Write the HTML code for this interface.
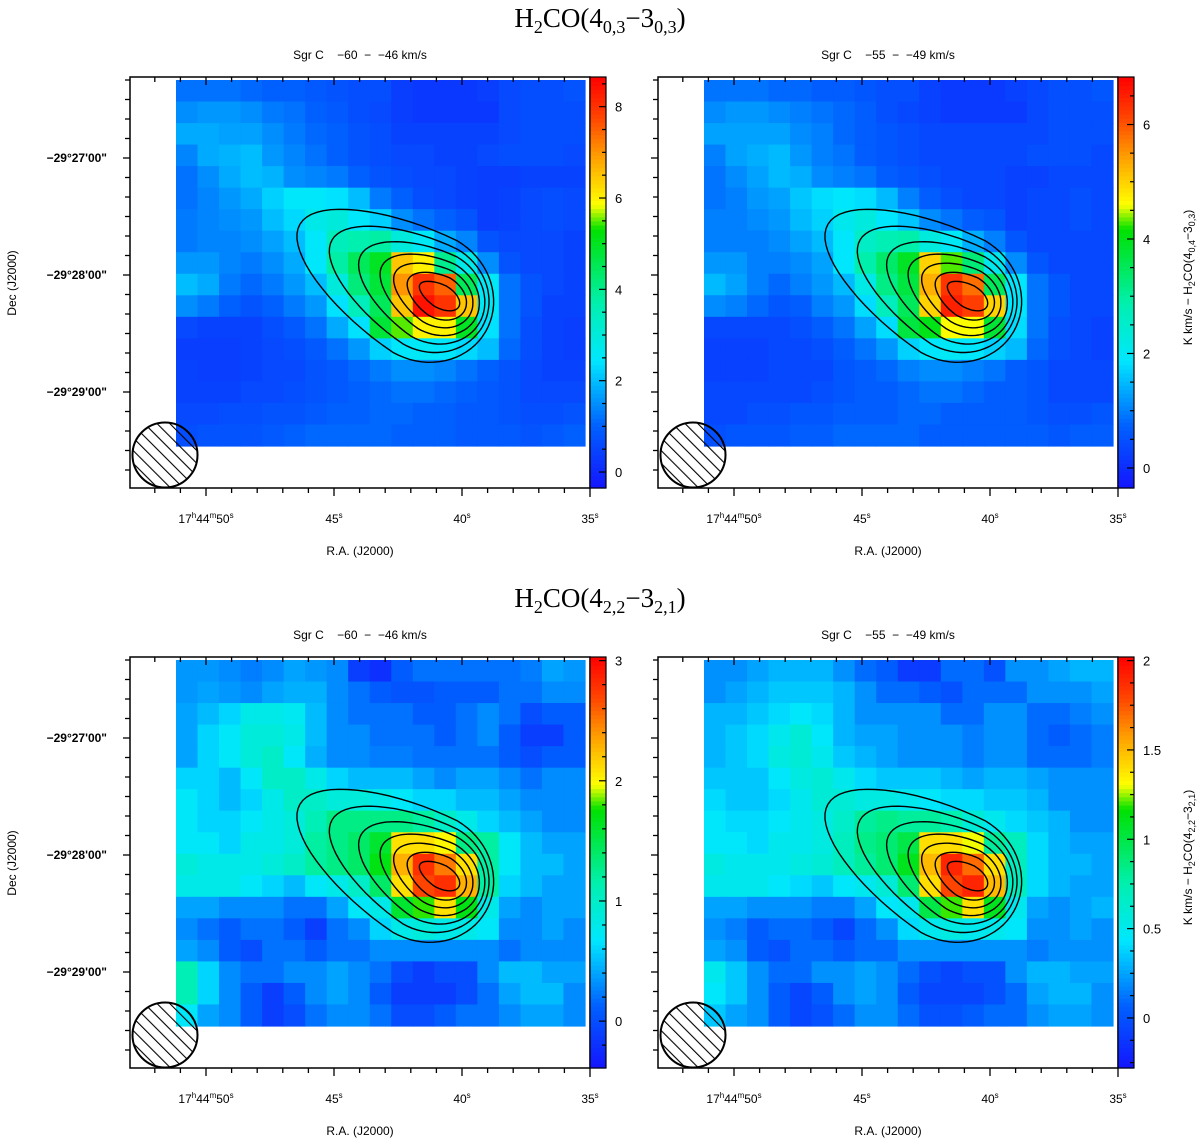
<!DOCTYPE html>
<html><head><meta charset="utf-8"><style>
html,body{margin:0;padding:0;background:#fff;}
svg text{font-family:"Liberation Sans",sans-serif;}
.ser{font-family:"Liberation Serif",serif;}
</style></head><body>
<svg id="fig" width="1200" height="1141" viewBox="0 0 1200 1141" xmlns="http://www.w3.org/2000/svg">
<defs>
<pattern id="hatch" patternUnits="userSpaceOnUse" width="9" height="9" patternTransform="rotate(-45)">
<line x1="0" y1="0" x2="0" y2="9" stroke="#000" stroke-width="2.2"/>
</pattern>
</defs>
<text class="ser" x="600" y="27" font-size="27" text-anchor="middle">H<tspan font-size="18" dy="6">2</tspan><tspan dy="-6">CO(4</tspan><tspan font-size="18" dy="6">0,3</tspan><tspan dy="-6">−3</tspan><tspan font-size="18" dy="6">0,3</tspan><tspan dy="-6">)</tspan></text>
<text class="ser" x="600" y="607" font-size="27" text-anchor="middle">H<tspan font-size="18" dy="6">2</tspan><tspan dy="-6">CO(4</tspan><tspan font-size="18" dy="6">2,2</tspan><tspan dy="-6">−3</tspan><tspan font-size="18" dy="6">2,1</tspan><tspan dy="-6">)</tspan></text>
</svg>
<script>
// ---- data ----
const rowIdx = [0,1,2,3,4,5,6,7,8,9,10,11,12,13,14,15,16];
const colIdx = [0,1,2,3,4,5,6,7,8,9,10,11,12,13,14,15,16,17,18];
const raTicks = [50,45,40,35];
const decTicks = ["−29°27'00\"","−29°28'00\"","−29°29'00\""];
const decTickOffsets = [-60,0,60];
const tlValues = [
[1.2,1.2,1.2,1.1,1.0,1.0,0.9,0.8,0.7,0.7,0.4,0.3,0.3,0.3,0.4,0.6,0.7,0.7,0.8],
[1.5,1.6,1.6,1.5,1.3,1.2,1.0,0.9,0.7,0.6,0.4,0.3,0.3,0.3,0.3,0.6,0.7,0.7,0.7],
[1.8,1.8,1.7,1.7,1.5,1.3,1.1,1.0,0.8,0.7,0.5,0.5,0.5,0.5,0.5,0.6,0.7,0.7,0.7],
[1.4,1.8,1.9,2.0,1.6,1.4,1.2,1.0,0.8,0.7,0.6,0.6,0.5,0.5,0.6,0.7,0.7,0.7,0.6],
[1.2,1.5,1.8,2.0,1.9,1.5,1.4,1.3,1.0,0.8,0.7,0.6,0.6,0.5,0.4,0.4,0.5,0.5,0.5],
[1.2,1.4,1.6,1.8,2.2,2.5,2.5,2.4,2.0,1.3,1.0,0.7,0.6,0.5,0.4,0.5,0.6,0.7,0.6],
[1.3,1.4,1.5,1.6,2.0,2.3,2.8,3.0,2.5,2.2,1.5,1.2,1.0,0.8,0.4,0.5,0.6,0.7,0.6],
[1.3,1.4,1.4,1.5,1.7,2.0,2.5,3.5,3.7,3.8,3.0,2.6,1.8,1.4,0.8,0.6,0.6,0.6,0.5],
[1.6,1.6,1.4,1.3,1.5,1.8,2.5,3.8,4.5,5.0,6.5,6.0,4.0,2.8,1.5,0.8,0.6,0.6,0.5],
[2.0,1.8,1.3,1.1,1.3,1.6,2.0,3.0,4.2,4.8,7.0,8.0,7.5,4.5,2.6,1.2,0.8,0.6,0.5],
[1.5,1.3,1.0,0.8,1.0,1.3,1.6,2.4,3.5,4.5,6.5,8.4,8.0,6.5,2.6,1.2,0.8,0.5,0.5],
[0.6,0.5,0.5,0.5,0.7,0.9,1.2,1.8,2.4,4.8,5.5,6.0,6.0,5.0,2.4,1.2,0.7,0.5,0.4],
[0.4,0.4,0.4,0.5,0.6,0.7,0.9,1.2,1.6,2.2,2.5,2.6,2.5,2.3,2.0,1.1,0.7,0.5,0.4],
[0.5,0.4,0.4,0.5,0.6,0.6,0.8,0.9,1.1,1.3,1.5,1.5,1.4,1.2,1.0,0.8,0.6,0.5,0.5],
[0.5,0.5,0.5,0.6,0.6,0.7,0.8,0.9,1.0,1.1,1.2,1.2,1.1,1.0,0.9,0.8,0.6,0.6,0.6],
[0.6,0.6,0.7,0.7,0.8,0.8,0.9,1.0,1.0,1.1,1.1,1.0,1.0,0.9,0.9,0.8,0.7,0.7,0.8],
[0.7,0.8,0.8,0.8,0.9,1.0,1.1,1.1,1.1,1.1,1.0,1.0,1.0,0.9,0.9,0.9,0.8,0.9,1.0]];
const trValues = [
[.9,.9,.9,.8,.8,.7,.7,.6,.5,.5,.3,.2,.2,.2,.3,.4,.5,.5,.6],
[1.1,1.2,1.2,1.1,1.0,.9,.8,.7,.5,.4,.3,.2,.2,.2,.2,.4,.5,.5,.5],
[1.3,1.3,1.3,1.3,1.1,1.0,.8,.7,.6,.5,.4,.4,.4,.4,.4,.4,.5,.5,.5],
[1.0,1.3,1.4,1.5,1.2,1.0,.9,.7,.6,.5,.4,.4,.4,.4,.4,.5,.5,.5,.4],
[.9,1.1,1.3,1.5,1.4,1.1,1.0,.9,.7,.6,.5,.4,.4,.4,.3,.3,.4,.4,.4],
[.9,1.0,1.2,1.3,1.6,1.8,1.9,1.8,1.5,1.0,.7,.5,.4,.4,.3,.4,.4,.5,.4],
[1.0,1.0,1.1,1.2,1.5,1.7,2.1,2.3,1.9,1.6,1.1,.9,.7,.6,.3,.4,.4,.5,.4],
[1.0,1.0,1.0,1.1,1.3,1.5,1.9,2.6,2.8,2.9,2.3,2.0,1.4,1.0,.6,.4,.4,.4,.4],
[1.2,1.2,1.0,1.0,1.1,1.3,1.9,2.9,3.4,3.9,5.0,4.3,3.3,2.1,1.1,.6,.4,.4,.4],
[1.5,1.3,1.0,.8,1.0,1.2,1.5,2.2,3.2,3.7,5.3,6.3,5.8,3.5,1.9,.9,.6,.4,.4],
[1.1,1.0,.8,.6,.7,1.0,1.2,1.8,2.7,3.5,5.0,6.5,6.2,5.0,1.9,.9,.6,.4,.4],
[.4,.4,.4,.4,.5,.7,.9,1.3,1.8,3.7,4.0,4.6,4.6,3.8,1.8,.9,.5,.4,.3],
[.3,.3,.3,.4,.4,.5,.7,.9,1.2,1.7,1.9,2.0,1.9,1.7,1.5,.8,.5,.4,.3],
[.3,.3,.3,.4,.4,.4,.6,.7,.8,1.0,1.1,1.1,1.0,.9,.7,.6,.4,.4,.4],
[.4,.4,.4,.4,.4,.5,.6,.7,.7,.8,.9,.9,.8,.7,.7,.6,.4,.4,.4],
[.4,.4,.5,.5,.6,.6,.7,.7,.7,.8,.8,.7,.7,.7,.7,.6,.5,.5,.6],
[.5,.6,.6,.6,.7,.7,.8,.8,.8,.8,.7,.7,.7,.7,.7,.7,.6,.7,.7]];
const blValues = [
[.35,.35,.3,.25,.3,.4,.35,.3,-.1,-.2,.1,.2,.2,.2,.2,.2,.25,.4,.35],
[.35,.4,.35,.3,.4,.45,.45,.3,.2,.1,.05,.05,.1,.1,.1,.2,.2,.3,.3],
[.4,.5,.6,.8,.8,.75,.5,.3,.2,.2,.2,.1,.1,.2,.3,.2,.0,.1,.1],
[.4,.6,.7,.9,.9,.8,.5,.3,.3,.2,.2,.2,.1,.2,.3,.1,-.1,-.1,.1],
[.4,.6,.7,.9,1.0,.7,.45,.3,.3,.25,.25,.2,.2,.2,.2,.1,0,.1,.1],
[.6,.6,.5,.7,1.0,1.0,.8,.6,.5,.5,.5,.4,.3,.4,.4,.3,.2,.3,.3],
[.7,.6,.5,.6,.8,1.0,1.0,.9,.9,.8,.7,.6,.6,.5,.5,.4,.3,.3,.3],
[.7,.6,.6,.7,.8,.9,1.1,1.3,1.3,1.3,1.3,1.2,1.0,.8,.6,.5,.4,.3,.3],
[.7,.7,.6,.8,.8,.9,1.2,1.3,1.4,1.6,2.1,2.1,2.0,1.3,1.2,.7,.5,.4,.4],
[.9,.8,.8,.8,.9,1.0,1.2,1.3,1.4,1.7,2.3,2.8,2.5,2.1,1.2,.7,.5,.5,.4],
[.8,.8,.8,.7,.6,.5,.7,.8,1.0,1.4,2.1,2.7,2.8,2.3,1.2,.6,.5,.4,.4],
[.4,.4,.3,.3,.3,.2,.2,.4,.7,.8,1.6,1.8,2.1,1.7,.8,.4,.3,.4,.4],
[.3,.2,.1,.2,.2,.1,-.1,.2,.3,.6,.8,.9,.8,.8,.7,.3,.3,.4,.3],
[.4,.3,.1,0,.2,.2,.1,.2,.2,.3,.3,.3,.3,.3,.3,.2,.3,.3,.3],
[1.1,.6,.3,.2,.2,.3,.3,.4,.3,.2,0,-.1,0,0,.3,.5,.5,.4,.4],
[1.1,.6,.3,.1,-.1,.1,.3,.4,.3,.1,-.1,-.1,-.1,0,.2,.4,.5,.5,.3],
[.7,.4,.3,.1,-.1,0,.2,.3,.3,.2,0,0,.1,.2,.2,.3,.4,.4,.3]];
const brValues = [
[.2,.2,.25,.3,.3,.3,.2,.1,.05,-.1,-.1,.1,.1,.0,.2,.2,.25,.3,.3],
[.2,.25,.3,.35,.35,.35,.3,.2,.1,.1,.05,.0,.1,.1,.1,.2,.2,.2,.25],
[.3,.3,.35,.4,.45,.4,.3,.2,.2,.2,.2,.1,.1,.2,.2,.1,.1,.15,.2],
[.3,.35,.4,.5,.6,.45,.3,.25,.25,.2,.2,.2,.15,.2,.2,.1,.05,.1,.15],
[.3,.35,.4,.55,.6,.5,.35,.3,.25,.2,.2,.2,.15,.2,.2,.1,.1,.1,.15],
[.35,.35,.35,.45,.55,.6,.5,.4,.35,.35,.35,.3,.25,.3,.3,.25,.2,.2,.2],
[.4,.35,.35,.4,.5,.6,.6,.55,.55,.5,.45,.4,.4,.35,.35,.3,.2,.2,.2],
[.45,.4,.4,.45,.5,.55,.65,.8,.85,.8,.8,.75,.6,.5,.4,.35,.3,.2,.2],
[.45,.45,.4,.5,.5,.55,.7,.85,.9,1.0,1.4,1.4,1.3,.8,.7,.4,.3,.25,.25],
[.55,.5,.5,.5,.55,.6,.7,.8,.9,1.1,1.5,1.9,1.7,1.4,.7,.4,.3,.3,.25],
[.5,.5,.5,.45,.4,.35,.45,.5,.6,.9,1.4,1.8,1.9,1.5,.7,.4,.3,.25,.25],
[.25,.25,.2,.2,.2,.15,.15,.25,.45,.5,1.0,1.2,1.4,1.1,.5,.25,.2,.25,.3],
[.2,.15,.05,.1,.1,.05,-.05,.1,.2,.4,.5,.55,.5,.5,.45,.2,.2,.25,.2],
[.25,.2,.05,0,.1,.1,.05,.1,.1,.2,.2,.2,.2,.2,.2,.15,.2,.2,.2],
[.5,.35,.2,.1,.1,.2,.2,.25,.2,.1,0,-.05,0,0,.2,.3,.3,.25,.25],
[.45,.35,.2,.05,-.05,.05,.2,.25,.2,.05,-.05,-.05,-.05,0,.1,.25,.3,.3,.2],
[.35,.25,.2,.05,-.05,0,.1,.2,.2,.1,0,0,.05,.1,.1,.2,.25,.25,.2]];
const tlCbTicks = [0,2,4,6,8];
const trCbTicks = [0,2,4,6];
const blCbTicks = [0,1,2,3];
const brCbTicks = [0,0.5,1,1.5,2];
// contour levels (center RA sec, Dec offset arcsec, half-lengths in arcsec)
const contourCenterRa = [40.85,40.9,40.95,41.0,41.1,41.25,41.45];
const contourCenterDec = [10.8,11.0,11.0,11.0,11.0,11.0,11.0];
const contourLeft = [12,18,25,32,43,58,74];
const contourRight = [11,15,19,23,27,31,36];
const contourWidth = [6,11,15,19,23.5,28,33];

// ---- helpers ----
const NS='http://www.w3.org/2000/svg';
const svg=document.getElementById('fig');
function mk(tag,attrs,parent){const e=document.createElementNS(NS,tag);for(const k in attrs)e.setAttribute(k,attrs[k]);(parent||svg).appendChild(e);return e;}
const stops=[[0,[20,20,255]],[0.15,[0,95,255]],[0.31,[0,230,255]],[0.45,[0,240,175]],[0.63,[0,225,0]],[0.69,[255,255,0]],[0.8,[255,165,0]],[0.9,[255,70,0]],[1,[255,0,0]]];
function cmap(t){t=Math.max(0,Math.min(1,t));for(let i=1;i<stops.length;i++){if(t<=stops[i][0]){const a=stops[i-1],b=stops[i];const f=(t-a[0])/(b[0]-a[0]);const c=a[1].map((v,j)=>Math.round(v+(b[1][j]-v)*f));return 'rgb('+c.join(',')+')';}}return 'rgb(255,0,0)';}

function panel(name,ox,oy,vals,vmin,vmax,cbTicks,cbMinor,subtitle,showDec,showCbLabel,cbLabelSub){
  const g=mk('g',{transform:'translate('+ox+','+oy+')'});
  
  
  const FL=130,FR=590,FT=77,FB=488;
  const raX=s=>590-(s-35)*25.6;
  const decY=o=>275+o*(117/60);
  const hx0=176,hy0=80,cw=(585-176)/19,rh=(446-80)/17;
  const hm=mk('g',{},g);
  
  
  rowIdx.forEach(r=>colIdx.forEach(c=>{
    const v=vals[r][c];
    const rect=mk('rect',{x:(hx0+c*cw).toFixed(2),y:(hy0+r*rh).toFixed(2),width:(cw+0.6).toFixed(2),height:(rh+0.6).toFixed(2),fill:cmap((v-vmin)/(vmax-vmin))},hm);
    
    
  }));
  const cg=mk('g',{},g);
  
  
  const ang=30*Math.PI/180, ca=Math.cos(ang), sa=Math.sin(ang);
  contourLeft.forEach((_,k)=>{
    const cx=raX(contourCenterRa[k]), cy=decY(contourCenterDec[k]);
    const sc=117/60;
    let pts=[];
    for(let i=0;i<72;i++){
      const th=i/72*2*Math.PI;const co=Math.cos(th),si=Math.sin(th);
      const u=(co>0?contourRight[k]:contourLeft[k])*co*sc;
      const v=contourWidth[k]*si*sc*(co<0?(1+0.15*co):1);
      pts.push((cx+u*ca-v*sa).toFixed(1)+','+(cy+u*sa+v*ca).toFixed(1));
    }
    const p=mk('polygon',{points:pts.join(' '),fill:'none',stroke:'#000','stroke-width':1.4,'stroke-linejoin':'round'},cg);
    
    
  });
  const bc=mk('circle',{cx:165,cy:455,r:32.5,fill:'url(#hatch)',stroke:'#000','stroke-width':2},g);
  
  
  const fr=mk('rect',{x:FL,y:FT,width:FR-FL,height:FB-FT,fill:'none',stroke:'#000','stroke-width':1.5},g);
  
  
  for(let s=36;s<=52;s++){const x=raX(s);const maj=(s%5===0);
    mk('line',{x1:x,y1:FB,x2:x,y2:FB+(maj?8:5),stroke:'#000','stroke-width':1.3},g);
    mk('line',{x1:x,y1:FT,x2:x,y2:FT+(maj?8:5),stroke:'#000','stroke-width':1.3},g);}
  mk('line',{x1:590,y1:FB,x2:590,y2:FB+9,stroke:'#000','stroke-width':1.3},g);
  raTicks.forEach(s=>{const t=mk('text',{x:raX(s),y:FB+35,'font-size':12,'text-anchor':'middle'},g);
    
    
    if(s===50){t.innerHTML='17<tspan font-size="8" dy="-5">h</tspan><tspan dy="5">44</tspan><tspan font-size="8" dy="-5">m</tspan><tspan dy="5">50</tspan><tspan font-size="8" dy="-5">s</tspan>';}
    else{t.innerHTML=s+'<tspan font-size="8" dy="-5">s</tspan>';}
  });
  const xt=mk('text',{x:360,y:FB+67,'font-size':12,'text-anchor':'middle'},g);xt.textContent='R.A. (J2000)';
  
  
  for(let o=-100;o<=100;o+=10){const y=decY(o);const maj=(o%60===0);
    mk('line',{x1:FL-(maj?7:5),y1:y,x2:FL,y2:y,stroke:'#000','stroke-width':1.3},g);}
  if(showDec){
    decTicks.forEach((lab,i)=>{const t=mk('text',{x:107,y:decY(decTickOffsets[i])+4,'font-size':12,'text-anchor':'end','font-weight':'bold'},g);t.textContent=lab;
      
      });
    const yt=mk('text',{x:16,y:283,'font-size':12,'text-anchor':'middle',transform:'rotate(-90 16 283)'},g);yt.textContent='Dec (J2000)';
    
    
  }
  const st=mk('text',{x:360,y:FT-18,'font-size':12,'text-anchor':'middle',style:'white-space:pre'},g);st.textContent=subtitle;
  
  
  const cb=mk('g',{},g);
  
  
  const CX=590,CW=16,N=100;
  for(let i=0;i<N;i++){const y0=FB-(i+1)*(FB-FT)/N;mk('rect',{x:CX,y:y0.toFixed(2),width:CW,height:((FB-FT)/N+0.6).toFixed(2),fill:cmap((i+0.5)/N)},cb);}
  mk('rect',{x:CX,y:FT,width:CW,height:FB-FT,fill:'none',stroke:'#000','stroke-width':1.2},cb);
  const cy=v=>FB-(v-vmin)/(vmax-vmin)*(FB-FT);
  for(let v=Math.ceil(vmin/cbMinor)*cbMinor;v<=vmax+1e-9;v+=cbMinor){
    const maj=cbTicks.some(t=>Math.abs(t-v)<1e-6);
    mk('line',{x1:CX+CW-(maj?7:4),y1:cy(v),x2:CX+CW,y2:cy(v),stroke:'#000','stroke-width':1.2},cb);}
  cbTicks.forEach(v=>{const t=mk('text',{x:CX+CW+9,y:cy(v)+5,'font-size':13},cb);t.textContent=String(v);
    
    });
  if(showCbLabel){
    const lx=664,ly=(FT+FB)/2-5;
    const t=mk('text',{x:lx,y:ly,'font-size':12,'text-anchor':'middle',transform:'rotate(-90 '+lx+' '+ly+')'},g);
    t.innerHTML='K km/s − H<tspan font-size="9" dy="3">2</tspan><tspan dy="-3">CO(4</tspan><tspan font-size="9" dy="3">'+cbLabelSub[0]+'</tspan><tspan dy="-3">−3</tspan><tspan font-size="9" dy="3">'+cbLabelSub[1]+'</tspan><tspan dy="-3">)</tspan>';
    
    
  }
}
panel('panel-top-left',0,0,tlValues,-0.35,8.65,tlCbTicks,0.5,'Sgr C    −60  −  −46 km/s',true,false,null);
panel('panel-top-right',528,0,trValues,-0.35,6.83,trCbTicks,0.5,'Sgr C    −55  −  −49 km/s',false,true,['0,4','0,3']);
panel('panel-bottom-left',0,580,blValues,-0.39,3.03,blCbTicks,0.2,'Sgr C    −60  −  −46 km/s',true,false,null);
panel('panel-bottom-right',528,580,brValues,-0.28,2.02,brCbTicks,0.125,'Sgr C    −55  −  −49 km/s',false,true,['2,2','2,1']);
</script>
</body></html>
